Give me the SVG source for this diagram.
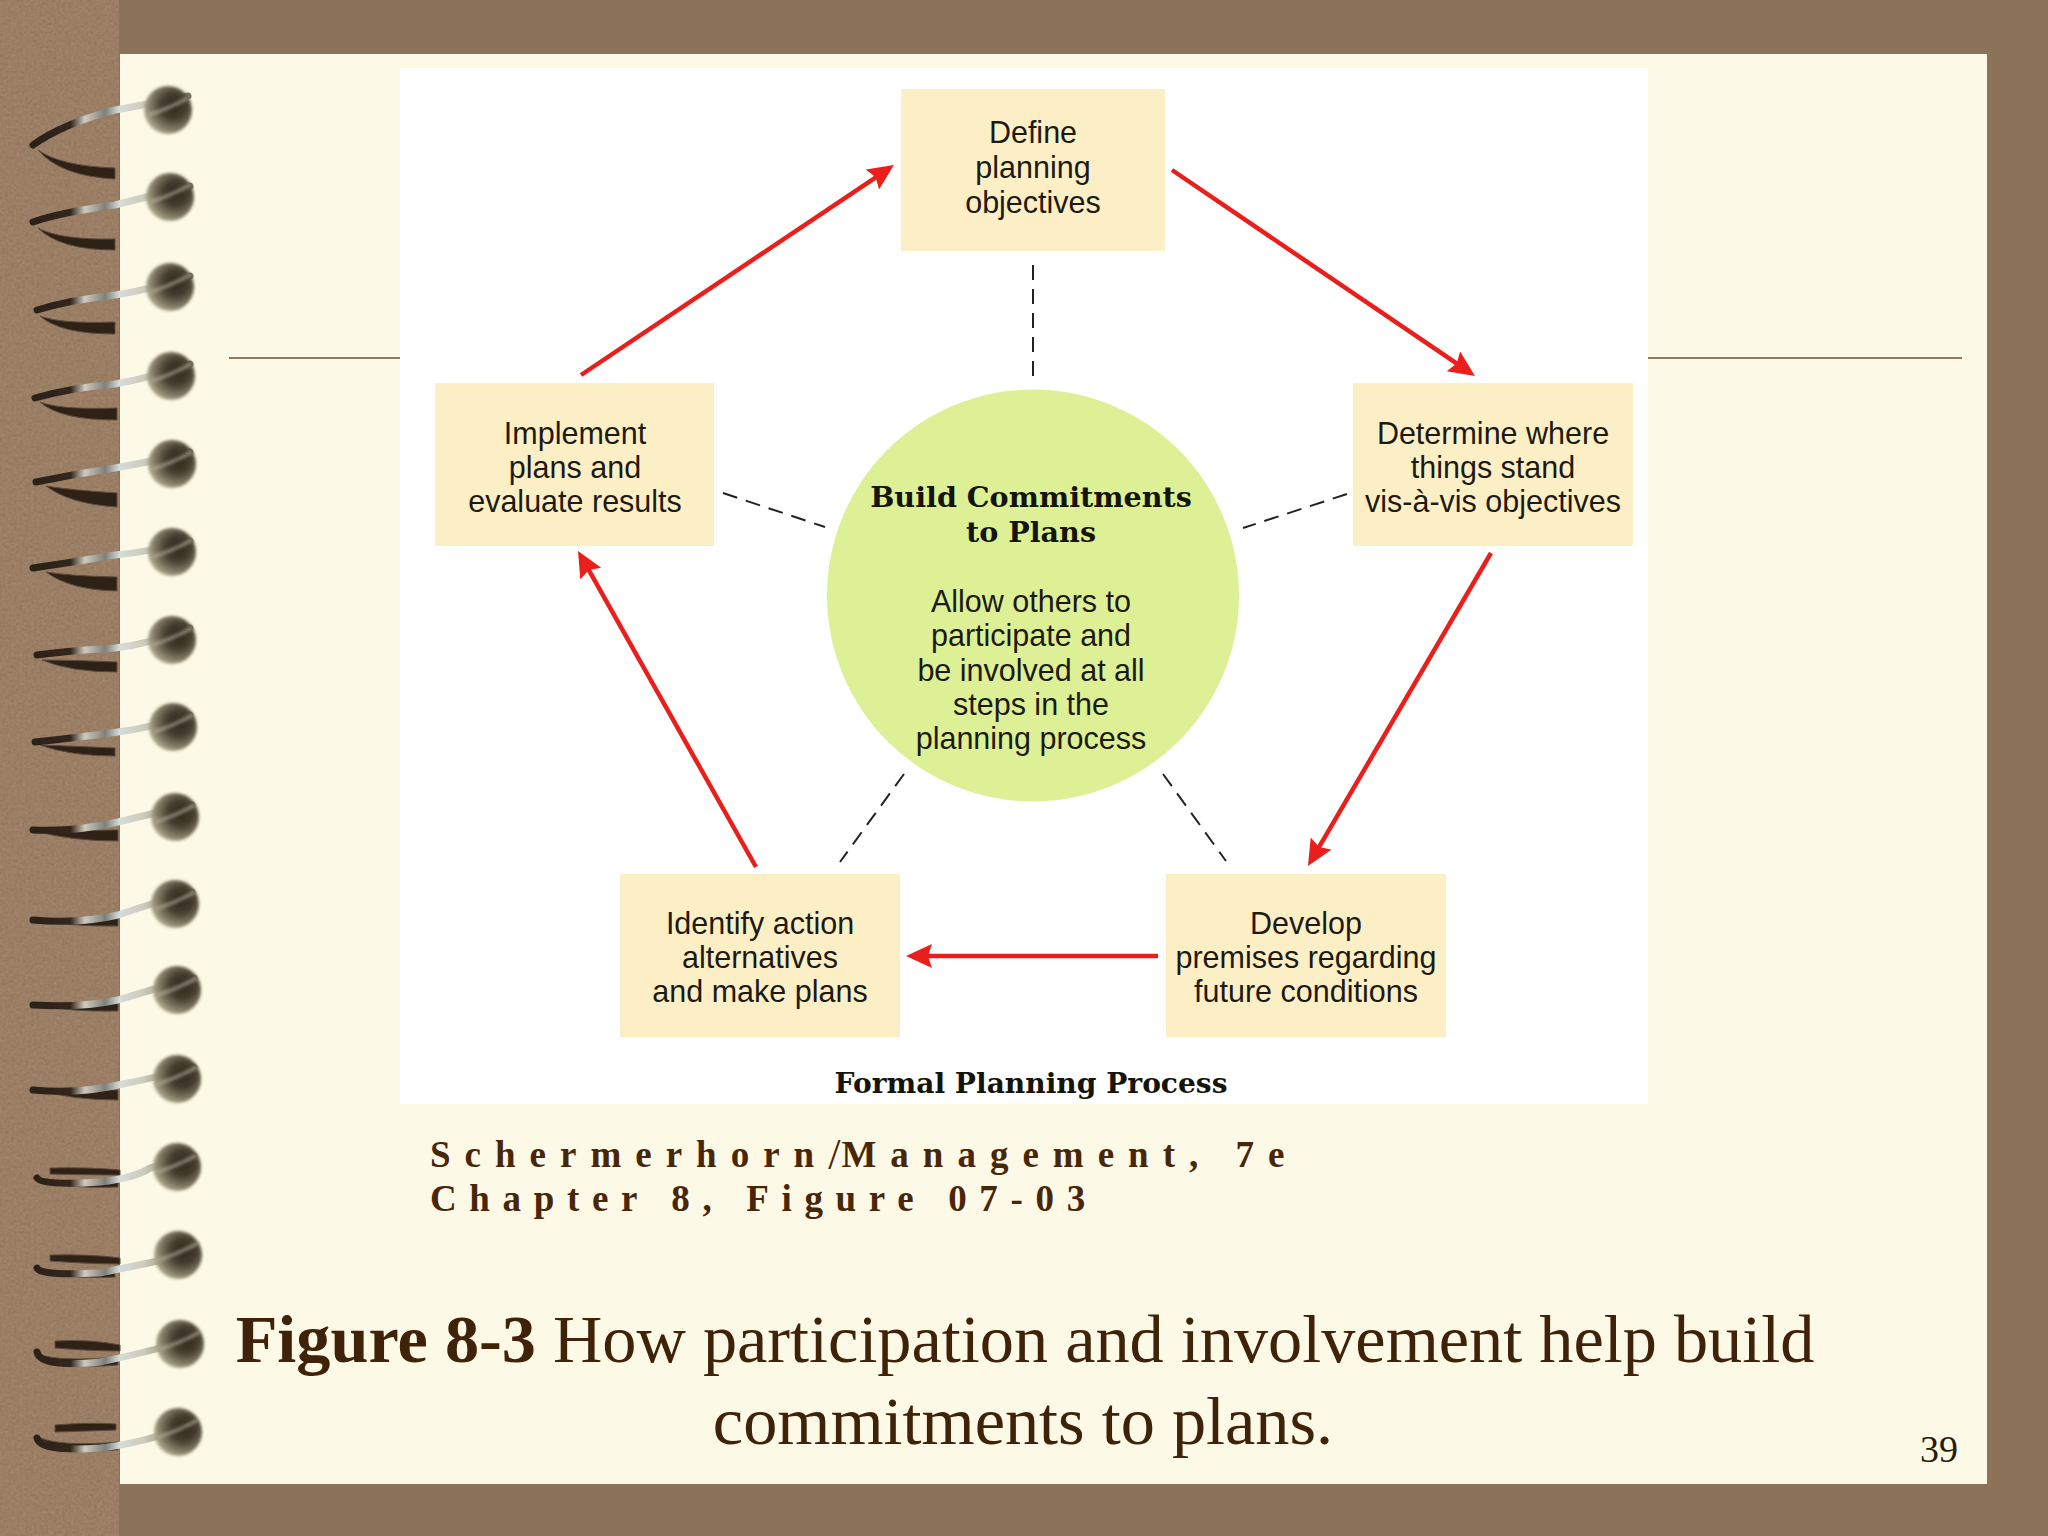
<svg xmlns="http://www.w3.org/2000/svg" width="2048" height="1536" viewBox="0 0 2048 1536">
<style>
.box{fill:#fcefc6}
.t{font-family:"Liberation Sans",Arial,sans-serif;font-size:30.5px;fill:#1c1a12;text-anchor:middle}
.s{font-family:"DejaVu Serif",serif;font-weight:bold;fill:#141408;text-anchor:middle}
.b{font-family:"Liberation Serif","Times New Roman",serif;fill:#3f2207}
.c{font-family:"Liberation Serif","Times New Roman",serif;font-weight:bold;font-size:37px;fill:#4a2608}
.red{fill:none;stroke:#ea1f1c;stroke-width:4.5;marker-end:url(#head)}
.dash{fill:none;stroke:#222;stroke-width:2;stroke-dasharray:15 9}
.up{fill:none;stroke:url(#wire);stroke-width:7;stroke-linecap:round}
.low{fill:#2f2119;stroke:#5c4a3e;stroke-width:1}
</style>
<defs>
<marker id="head" markerUnits="userSpaceOnUse" markerWidth="28" markerHeight="26" refX="14" refY="12" orient="auto" viewBox="0 0 28 26">
<path d="M0 0L26 12L0 24L4 12Z" fill="#ea1f1c"/>
</marker>
<linearGradient id="wire" gradientUnits="userSpaceOnUse" x1="33" y1="0" x2="190" y2="0">
<stop offset="0" stop-color="#2b2018"/><stop offset=".24" stop-color="#33271f"/><stop offset=".33" stop-color="#cfcac0"/><stop offset=".46" stop-color="#7f807b"/><stop offset=".55" stop-color="#d5dcd9"/><stop offset=".7" stop-color="#cdccbe"/><stop offset=".85" stop-color="#a09b88"/><stop offset="1" stop-color="#777261"/>
</linearGradient>
<radialGradient id="bg" cx=".62" cy=".42" r=".75">
<stop offset="0" stop-color="#2f291e"/><stop offset=".35" stop-color="#443d2f"/><stop offset=".65" stop-color="#817b65"/><stop offset="1" stop-color="#dcd6ba"/>
</radialGradient>
<filter id="soft" x="-20%" y="-20%" width="140%" height="140%"><feGaussianBlur stdDeviation="1.6"/></filter>
<filter id="wsoft" x="-5%" y="-5%" width="110%" height="110%"><feGaussianBlur stdDeviation=".7"/></filter>
<filter id="grain" x="0" y="0" width="100%" height="100%">
<feTurbulence type="fractalNoise" baseFrequency=".35" numOctaves="2" seed="3"/>
<feColorMatrix values="0 0 0 0 .42  0 0 0 0 .30  0 0 0 0 .2  .5 .5 0 0 -.28"/>
<feComposite in2="SourceGraphic" operator="over"/>
</filter>
<g id="ball"><circle cy="1" r="24" fill="url(#bg)" filter="url(#soft)"/><path d="M-20 6Q0 0 20 -11" fill="none" stroke="#b8b39c" stroke-opacity=".55" stroke-width="4" filter="url(#soft)"/></g>
</defs>
<rect width="2048" height="1536" fill="#8b7259"/>
<rect x="0" y="0" width="119" height="1536" fill="#94765c" filter="url(#grain)"/>
<rect x="120" y="54" width="1867" height="1430" fill="#fcfae6"/>
<path d="M229 358H400M1648 358H1962" stroke="#8f7a5e" stroke-width="2" fill="none"/>
<rect x="400" y="68" width="1248" height="1036" fill="#fff"/>
<g id="binding">
<g filter="url(#wsoft)">
<path class="low" d="M38 150Q60 166 115 168L115 179Q60 176 38 150Z"/>
<path class="low" d="M38 228Q60 240 115 239L115 250Q60 250 38 228Z"/>
<path class="low" d="M40 316Q60 324 115 322L115 334Q60 334 40 316Z"/>
<path class="low" d="M40 402Q60 410 117 408L117 420Q60 420 40 402Z"/>
<path class="low" d="M46 486Q70 490 117 493L117 507Q70 504 46 486Z"/>
<path class="low" d="M46 572Q70 576 117 577L117 591Q70 590 46 572Z"/>
<path class="low" d="M42 660Q70 660 117 662L117 672Q70 672 42 660Z"/>
<path class="low" d="M40 745Q70 746 115 748L115 756Q70 756 40 745Z"/>
<path class="low" d="M36 831L118 830L118 841Q70 841 36 831Z"/>
<path class="low" d="M36 919L118 918L118 926Q70 927 36 919Z"/>
<path class="low" d="M36 1005L118 1003L118 1011Q70 1012 36 1005Z"/>
<path class="low" d="M36 1089L118 1090L118 1100Q70 1100 36 1089Z"/>
<path class="low" d="M38 1178Q60 1182 118 1181L118 1187Q60 1189 38 1178Z"/>
<path class="low" d="M38 1268Q60 1273 115 1271L115 1277Q60 1280 38 1268Z"/>
<path class="low" d="M38 1354Q60 1362 118 1357L118 1365Q60 1370 38 1354Z"/>
<path class="low" d="M38 1437Q60 1447 118 1442L118 1450Q60 1454 38 1437Z"/>
<path class="low" d="M50 1168Q90 1167 120 1170L120 1175Q90 1175 50 1174Z"/>
<path class="low" d="M50 1255Q90 1254 120 1258L120 1264Q90 1264 50 1261Z"/>
<path class="low" d="M55 1341Q90 1339 120 1345L120 1351Q90 1351 55 1348Z"/>
<path class="low" d="M55 1425Q90 1422 116 1424L116 1430Q90 1431 55 1432Z"/>
<path class="up" d="M33 145Q62 124 115 110Q150 104 188 96"/>
<path class="up" d="M33 222Q62 212 115 205Q150 196 190 186"/>
<path class="up" d="M37 310Q70 300 115 295Q150 290 190 276"/>
<path class="up" d="M35 398Q70 388 115 384Q150 378 190 364"/>
<path class="up" d="M36 482Q75 474 115 468Q150 462 190 452"/>
<path class="up" d="M33 568Q75 562 115 555Q150 552 190 541"/>
<path class="up" d="M37 655Q75 650 115 648Q150 644 190 628"/>
<path class="up" d="M35 742Q75 738 118 732Q150 728 190 715"/>
<path class="up" d="M33 830Q75 832 118 822Q150 814 192 805"/>
<path class="up" d="M33 920Q80 924 118 915Q150 904 192 892"/>
<path class="up" d="M33 1005Q80 1008 118 1000Q150 990 194 978"/>
<path class="up" d="M33 1090Q80 1094 118 1085Q155 1078 194 1067"/>
<path class="up" d="M37 1178Q42 1186 100 1182Q135 1178 150 1168L194 1156"/>
<path class="up" d="M37 1268Q40 1276 100 1273Q135 1266 195 1253"/>
<path class="up" d="M37 1352Q40 1368 100 1362Q140 1354 197 1338"/>
<path class="up" d="M37 1438Q40 1452 100 1448Q140 1444 195 1424"/>
</g>
<use href="#ball" x="168" y="109"/><use href="#ball" x="170" y="196"/><use href="#ball" x="170" y="286"/><use href="#ball" x="171" y="375"/>
<use href="#ball" x="172" y="463"/><use href="#ball" x="172" y="551"/><use href="#ball" x="172" y="639"/><use href="#ball" x="173" y="726"/>
<use href="#ball" x="175" y="816"/><use href="#ball" x="175" y="903"/><use href="#ball" x="177" y="989"/><use href="#ball" x="177" y="1078"/>
<use href="#ball" x="177" y="1166"/><use href="#ball" x="178" y="1254"/><use href="#ball" x="180" y="1343"/><use href="#ball" x="178" y="1431"/>
</g>
<g id="connectors">
<path class="red" d="M581 375L884 171.8"/>
<path class="red" d="M1172 170L1465 369.2"/>
<path class="red" d="M1491 553L1314 855.7"/>
<path class="red" d="M1158 956L918 956"/>
<path class="red" d="M756 867L583.9 561.4"/>
<path class="dash" d="M1033 265V382"/>
<path class="dash" d="M723 493L825 527"/>
<path class="dash" d="M1347 494L1243 528"/>
<path class="dash" d="M904 774L840 862"/>
<path class="dash" d="M1163 774L1226 861"/>
</g>
<g id="node-define"><rect class="box" x="901" y="89" width="264" height="162"/>
<text class="t" x="1033" y="143">Define</text><text class="t" x="1033" y="178">planning</text><text class="t" x="1033" y="213">objectives</text></g>
<g id="node-determine"><rect class="box" x="1353" y="383" width="280" height="163"/>
<text class="t" x="1493" y="444">Determine where</text><text class="t" x="1493" y="478">things stand</text><text class="t" x="1493" y="512">vis-à-vis objectives</text></g>
<g id="node-develop"><rect class="box" x="1166" y="874" width="280" height="163"/>
<text class="t" x="1306" y="934">Develop</text><text class="t" x="1306" y="968">premises regarding</text><text class="t" x="1306" y="1002">future conditions</text></g>
<g id="node-identify"><rect class="box" x="620" y="874" width="280" height="163"/>
<text class="t" x="760" y="934">Identify action</text><text class="t" x="760" y="968">alternatives</text><text class="t" x="760" y="1002">and make plans</text></g>
<g id="node-implement"><rect class="box" x="435" y="383" width="279" height="163"/>
<text class="t" x="575" y="444">Implement</text><text class="t" x="575" y="478">plans and</text><text class="t" x="575" y="512">evaluate results</text></g>
<g id="node-center"><circle cx="1033" cy="595.5" r="206" fill="#ddf096"/>
<text class="s" x="1031" y="507" font-size="28.6">Build Commitments</text><text class="s" x="1031" y="542" font-size="28.6">to Plans</text>
<text class="t" x="1031" y="612">Allow others to</text><text class="t" x="1031" y="646">participate and</text><text class="t" x="1031" y="681">be involved at all</text><text class="t" x="1031" y="715">steps in the</text><text class="t" x="1031" y="749">planning process</text></g>
<text class="s" x="1031" y="1093" font-size="28.1">Formal Planning Process</text>
<text class="c" x="430" y="1167" letter-spacing="14">Schermerhorn<tspan font-size="44" font-weight="normal" dy="2" letter-spacing="1">/</tspan><tspan dy="-2">Management, 7e</tspan></text>
<text class="c" x="430" y="1211" letter-spacing="12.65">Chapter 8, Figure 07-03</text>
<text class="b" x="1025" y="1362" font-size="68.3" text-anchor="middle"><tspan font-weight="bold">Figure 8-3</tspan> How participation and involvement help build</text>
<text class="b" x="1023" y="1444" font-size="68.3" text-anchor="middle">commitments to plans.</text>
<text class="b" x="1920" y="1462" font-size="38" style="fill:#2a1a0a">39</text>
</svg>
